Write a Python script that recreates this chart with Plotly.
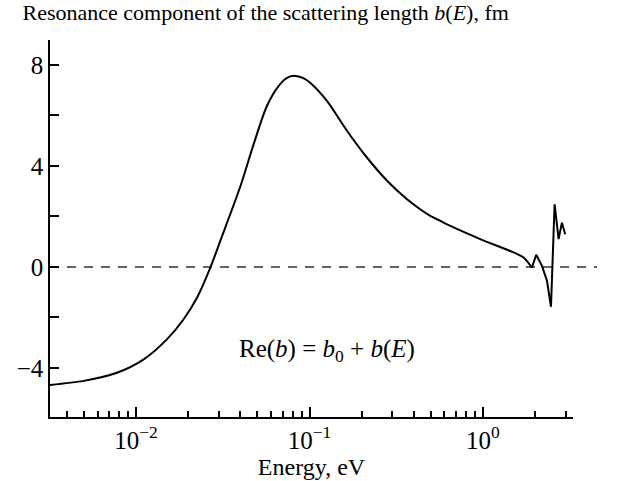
import plotly.graph_objects as go

# Energy (eV) and Re(b) (fm)
energy = [0.00319, 0.00499, 0.00776, 0.01107, 0.0151, 0.0188, 0.0225, 0.0268, 0.0306,
          0.0400, 0.0476, 0.0569, 0.0679, 0.0750, 0.0828, 0.0915, 0.1012, 0.126,
          0.1644, 0.2143, 0.280, 0.365, 0.497, 0.568, 0.649, 0.964, 1.435, 1.714,
          1.914, 2.028, 2.188, 2.339, 2.466, 2.588, 2.729, 2.851, 2.979]
re_b = [-4.67, -4.51, -4.19, -3.66, -2.86, -2.07, -1.21, -0.03, 1.03,
        3.2, 4.85, 6.38, 7.24, 7.50, 7.56, 7.48, 7.28, 6.57,
        5.39, 4.33, 3.41, 2.68, 2.02, 1.82, 1.62, 1.10, 0.63, 0.37,
        -0.03, 0.48, 0.04, -0.55, -1.58, 2.48, 1.10, 1.75, 1.29]

x_tickvals = [0.01, 0.1, 1]
x_ticktext = ["10<sup>\u22122</sup>", "10<sup>\u22121</sup>", "10<sup>0</sup>"]
x_minor = [0.004, 0.005, 0.006, 0.007, 0.008, 0.009,
           0.02, 0.03, 0.04, 0.05, 0.06, 0.07, 0.08, 0.09,
           0.2, 0.3, 0.4, 0.5, 0.6, 0.7, 0.8, 0.9, 2, 3]
y_tickvals = [-4, 0, 4, 8]

split = energy.index(1.914)

FONT = "Liberation Serif"

fig = go.Figure()
fig.add_trace(go.Scatter(x=energy[:split + 1], y=re_b[:split + 1], mode="lines",
                         line=dict(color="black", width=2, shape="spline", smoothing=0.8),
                         showlegend=False))
fig.add_trace(go.Scatter(x=energy[split:], y=re_b[split:], mode="lines",
                         line=dict(color="black", width=2),
                         showlegend=False))

fig.add_shape(type="line", xref="paper", yref="y", x0=0, x1=1.046, y0=0, y1=0,
              line=dict(color="#333333", width=1.5, dash="9px,8px"), layer="below")

fig.add_annotation(xref="paper", yref="paper", x=0.53, y=0.177,
                   text="Re(<i>b</i>) = <i>b</i><sub>0</sub> + <i>b</i>(<i>E</i>)",
                   showarrow=False, font=dict(family=FONT, size=25, color="black"),
                   xanchor="center", yanchor="middle")

fig.update_layout(
    width=626, height=481,
    margin=dict(l=50, r=53, t=40, b=64, autoexpand=False),
    paper_bgcolor="white", plot_bgcolor="white",
    font=dict(family=FONT, size=24, color="black"),
    title=dict(text="Resonance component of the scattering length <i>b</i>(<i>E</i>), fm",
               x=0.036, xanchor="left", xref="container",
               y=0.99, yanchor="top", yref="container",
               font=dict(family=FONT, size=22, color="black")),
    xaxis=dict(type="log", range=[-2.496, 0.519], automargin=False,
               tickmode="array", tickvals=x_tickvals, ticktext=x_ticktext,
               ticks="inside", ticklen=10, tickwidth=1.5, tickcolor="black",
               minor=dict(tickmode="array", tickvals=x_minor, ticks="inside",
                          ticklen=6, tickwidth=1.5, tickcolor="black"),
               showline=True, linecolor="black", linewidth=1.5,
               showgrid=False, zeroline=False,
               title=dict(text="Energy, eV", standoff=2, font=dict(size=24)),
               tickfont=dict(size=25)),
    yaxis=dict(range=[-5.94, 8.98], automargin=False,
               tickmode="array", tickvals=y_tickvals,
               ticks="inside", ticklen=9, tickwidth=1.5, tickcolor="black",
               minor=dict(dtick=2, ticks="inside", ticklen=9, tickwidth=1.5, tickcolor="black"),
               showline=True, linecolor="black", linewidth=1.5,
               showgrid=False, zeroline=False,
               tickfont=dict(size=25)),
)

fig.write_html("out.html")
